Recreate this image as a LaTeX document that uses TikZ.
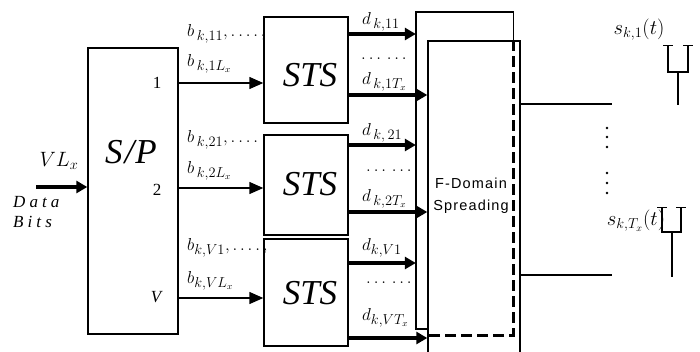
\documentclass[tikz,border=0pt]{standalone}
\usepackage{fontspec}
\setmainfont{Liberation Serif}
\newfontfamily\fdsans[LetterSpace=8]{Liberation Sans}
\newfontfamily\dbfont[LetterSpace=24]{Liberation Serif}
\usetikzlibrary{arrows.meta}
\newcommand{\fourdots}{\mathinner{\ldotp\ldotp\ldotp\ldotp}}
\newcommand{\sixdots}{\ldotp\ldotp\ldotp\,\ldotp\ldotp\ldotp}
\begin{document}
\begin{tikzpicture}[x=1pt,y=-1pt,
  box/.style={draw,line width=1.4pt,inner sep=0pt},
  thinarr/.style={line width=1.4pt,-{Triangle[length=14pt,width=12pt]}},
  thickarr/.style={line width=3.6pt,-{Triangle[length=11pt,width=12pt]}},
  lbl/.style={inner sep=0pt,font=\fontsize{17}{17}\selectfont},
  big/.style={font=\fontsize{35}{35}\selectfont\itshape},
  dotsl/.style={inner sep=0pt,anchor=west,font=\fontsize{17}{17}\selectfont},
  dotc/.style={fill=black,circle,inner sep=0pt,minimum size=2.8pt}]
\useasboundingbox (0,0) rectangle (700,351);
% S/P
\node[box,minimum width=90pt,minimum height=286pt] (sp) at (133,191) {};
\node[big,inner sep=0pt] (sptxt) at (131,152) {\textit{S}\kern2pt/\kern1pt\textit{P}};
\node[lbl] (p1) at (157,83) {1};
\node[lbl] (p2) at (157,190) {2};
\node[lbl] (pv) at (157,297) {\textit{V}};
% STS boxes
\node[box,minimum width=84pt,minimum height=106pt] (sts1) at (306,70) {};
\node[box,minimum width=84pt,minimum height=100pt] (sts2) at (306,185) {};
\node[box,minimum width=84pt,minimum height=107pt] (sts3) at (306,292.5) {};
\node[big,inner sep=0pt] (t1) at (310,75) {STS};
\node[big,inner sep=0pt] (t2) at (310,184) {STS};
\node[big,inner sep=0pt] (t3) at (310,293) {STS};
% input
\coordinate (in) at (36,187);
\draw[line width=3.6pt,-{Triangle[length=11pt,width=12pt]}] (in) -- (sp.west |- in);
\node[inner sep=0pt,font=\fontsize{22}{22}\selectfont] (vl) at (59,161) {$VL_x$};
\node[inner sep=0pt,anchor=west,font=\fontsize{17}{17}\selectfont\dbfont\itshape] (db1) at (13,202) {Data};
\node[inner sep=0pt,anchor=west,font=\fontsize{17}{17}\selectfont\dbfont\itshape] (db2) at (13,222) {Bits};
% S/P -> STS arrows
\draw[thinarr] (sp.east |- 0,83) -- (sts1.west |- 0,83);
\draw[thinarr] (sp.east |- 0,188) -- (sts2.west |- 0,188);
\draw[thinarr] (sp.east |- 0,298) -- (sts3.west |- 0,298);
% b labels
\begin{scope}[every node/.style={inner sep=0pt,anchor=west,font=\fontsize{19}{19}\selectfont}]
\node (b11) at (187,34) {$b_{\,k,11},\fourdots,$};
\node (b1l) at (187,64) {$b_{\,k,1L_x}$};
\node (b21) at (187,140) {$b_{\,k,21},\fourdots$};
\node (b2l) at (187,171) {$b_{\,k,2L_x}$};
\node (bv1) at (187,248) {$b_{k,V1},\fourdots,$};
\node (bvl) at (187,281) {$b_{k,VL_x}$};
\end{scope}
% F-domain boxes
\node[minimum width=97pt,minimum height=323pt,inner sep=0pt] (fdb) at (464.5,173.5) {};
\node[box,minimum width=92pt,minimum height=330pt] (fdf) at (474,206) {};
\draw[line width=1.4pt] (fdf.west |- 0,329) -- (fdb.west |- 0,329) -- (fdb.north west) -- (fdb.north east) -- (fdb.east |- fdf.north);
\draw[line width=3pt,dash pattern=on 11pt off 5pt] (fdb.east |- fdf.north) -- (fdb.south east) -- (fdf.west |- fdb.south);
\node[inner sep=0pt,align=center,font=\fontsize{14.5}{22}\selectfont\fdsans] (fdt) at (471,196) {F-Domain\\Spreading};
% STS -> F-domain arrows
\draw[thickarr] (sts1.east |- 0,34) -- (fdb.west |- 0,34);
\draw[thickarr] (sts1.east |- 0,95) -- (fdf.west |- 0,95);
\draw[thickarr] (sts2.east |- 0,145) -- (fdb.west |- 0,145);
\draw[thickarr] (sts2.east |- 0,212) -- (fdf.west |- 0,212);
\draw[thickarr] (sts3.east |- 0,263) -- (fdb.west |- 0,263);
\draw[thickarr] (sts3.east |- 0,338) -- (fdf.west |- 0,338);
% d labels
\begin{scope}[every node/.style={inner sep=0pt,anchor=west,font=\fontsize{19}{19}\selectfont}]
\node (d11) at (362,22) {$d_{\,k,11}$};
\node (d1t) at (362,82) {$d_{\,k,1T_x}$};
\node (d21) at (362,133) {$d_{\,k,\,21}$};
\node (d2t) at (362,199) {$d_{\,k,2T_x}$};
\node (dv1) at (362,248) {$d_{k,V1}$};
\node (dvt) at (362,318) {$d_{k,VT_x}$};
\end{scope}
\node[dotsl] (dd1) at (361,59) {$\sixdots$};
\node[dotsl] (dd2) at (366,171) {$\sixdots$};
\node[dotsl] (ddv) at (366,283) {$\sixdots$};
% outputs
\coordinate (o1) at (612,104);
\coordinate (o2) at (612,275);
\draw[line width=1.2pt] (fdf.east |- o1) -- (o1);
\draw[line width=1.2pt] (fdf.east |- o2) -- (o2);
\foreach \yy/\nm in {128/a,137/b,147/c,173/d,183/e,193/f}
  \node[dotc] (dot\nm) at (607,\yy) {};
% antennas
\node[inner sep=0pt,font=\fontsize{20}{20}\selectfont] (s1) at (639,30) {$s_{k,1}(t)$};
\node[inner sep=0pt,font=\fontsize{20}{20}\selectfont] (s2) at (636,221) {$s_{k,T_x}(t)$};
\draw[line width=2.6pt] (668,45) -- (668,72) -- (688,72) -- (688,45);
\draw[line width=1.2pt] (663,45.5) -- (673,45.5) (683,45.5) -- (693,45.5);
\draw[line width=1.6pt] (678,72) -- (678,105);
\draw[line width=2.6pt] (662,207) -- (662,232) -- (681,232) -- (681,207);
\draw[line width=1.2pt] (657,207.5) -- (667,207.5) (676,207.5) -- (686,207.5);
\draw[line width=1.6pt] (672,232) -- (672,277);
\end{tikzpicture}
\end{document}
